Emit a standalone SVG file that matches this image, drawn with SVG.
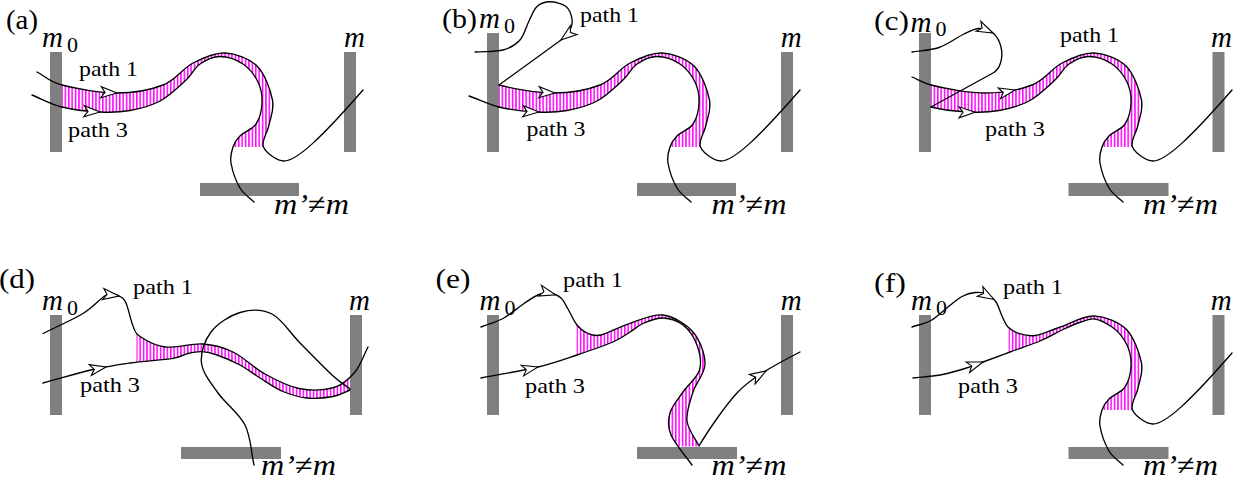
<svg xmlns="http://www.w3.org/2000/svg" xmlns:xlink="http://www.w3.org/1999/xlink" width="1239" height="481" viewBox="0 0 1239 481">
<style>
.mir{fill:#808080}
.crv{fill:none;stroke:#000;stroke-width:1.35;stroke-linecap:round;stroke-linejoin:round}
.band{fill:url(#hatch);stroke:none}
.ah{fill:#fff;stroke:#000;stroke-width:1.1;stroke-linejoin:miter}
text{font-family:"Liberation Serif","Times New Roman",serif;fill:#000}
.pl{font-size:27px}
.pt{font-size:22px}
.mi{font-style:italic;font-size:29px}
.sb{font-size:22px}
</style>
<defs>
<pattern id="hatch" patternUnits="userSpaceOnUse" x="0" y="0" width="3.4" height="10"><rect x="0" y="0" width="1.5" height="10" fill="#ff00ff"/></pattern>
<path id="ah" class="ah" d="M0,0 L-16,-5.5 L-12,0 L-16,5.5 Z"/>
<path id="bandA" class="band" d="M62,85 C75.3,88.5 100.2,93 117,93 C133.8,93 150.3,90 163,85 C175.7,80 182.7,68.3 193,63 C203.3,57.7 214.3,52.5 225,53 C235.7,53.5 249.1,58.2 257,66 C264.9,73.8 270.5,90.2 272.5,100 C274.5,109.8 270.5,117.2 269,125 C267.5,132.8 261,141 263.5,147 L233,147 C234.5,142.5 236.2,139.8 240,136 C243.8,132.2 252.3,129.5 256,124 C259.7,118.5 261.7,110 262,103 C262.3,96 261.2,88.5 258,82 C254.8,75.5 249.3,68.25 243,64 C236.7,59.75 227.2,56.5 220,56.5 C212.8,56.5 205.7,60.1 200,64 C194.3,67.9 192.7,73.8 186,80 C179.3,86.2 169.3,95.9 160,101 C150.7,106.1 140,108.7 130,110.5 C120,112.3 111.3,112.6 100,112 C88.7,111.4 73.3,109.8 62,107 Z"/>
<path id="p1tail" class="crv" d="M62,85 C75.3,88.5 100.2,93 117,93 C133.8,93 150.3,90 163,85 C175.7,80 182.7,68.3 193,63 C203.3,57.7 214.3,52.5 225,53 C235.7,53.5 249.1,58.2 257,66 C264.9,73.8 270.5,90.2 272.5,100 C274.5,109.8 270.5,117.2 269,125 C267.5,132.8 261,141 263.5,147 C266,153 277.3,161 284,161 C297,161 322,137 363,90"/>
<path id="p3tail" class="crv" d="M62,107 C73.3,109.8 88.7,111.4 100,112 C111.3,112.6 120,112.3 130,110.5 C140,108.7 150.7,106.1 160,101 C169.3,95.9 179.3,86.2 186,80 C192.7,73.8 194.3,67.9 200,64 C205.7,60.1 212.8,56.5 220,56.5 C227.2,56.5 236.7,59.75 243,64 C249.3,68.25 254.8,75.5 258,82 C261.2,88.5 262.3,96 262,103 C261.7,110 259.7,118.5 256,124 C252.3,129.5 243.8,132.2 240,136 C236.2,139.8 234.5,142.5 233,147 C231.5,151.5 229.8,156.2 231,163 C232.2,169.8 236.2,181.5 240,188 C243.8,194.5 249.3,197.3 254,202"/>
<clipPath id="clipD"><rect x="136.5" y="0" width="213.5" height="250"/></clipPath>
<clipPath id="clipE"><rect x="139.5" y="0" width="260" height="183.5"/></clipPath>
<clipPath id="clipF"><rect x="139.5" y="0" width="260" height="250"/></clipPath>
</defs>
<rect x="0" y="0" width="1239" height="481" fill="#fff"/>

<!-- Panel (a) -->
<g id="panel-a">
 <use href="#bandA"/>
 <g id="mirrors-a">
  <rect class="mir" x="50" y="52" width="12" height="100"/>
  <rect class="mir" x="344" y="52" width="12" height="100"/>
  <rect class="mir" x="200" y="183" width="99" height="13"/>
 </g>
 <g id="curves-a">
  <path class="crv" d="M37,72 C45.3,76.3 48.7,81.5 62,85"/>
  <use href="#p1tail"/>
  <path class="crv" d="M32,95 C42,99 50.7,104.2 62,107"/>
  <use href="#p3tail"/>
  <use href="#ah" transform="translate(117,93) rotate(3)"/>
  <use href="#ah" transform="translate(100,112) rotate(3)"/>
 </g>
 <g id="labels-a">
  <text class="pl" x="6" y="29" textLength="32" lengthAdjust="spacingAndGlyphs">(a)</text>
  <text class="mi" x="42" y="47">m</text>
  <text class="sb" x="67" y="52">0</text>
  <text class="pt" x="79" y="76" textLength="59" lengthAdjust="spacingAndGlyphs">path 1</text>
  <text class="pt" x="68" y="137" textLength="60" lengthAdjust="spacingAndGlyphs">path 3</text>
  <text class="mi" x="344" y="47">m</text>
  <text class="mi" x="274" y="214" textLength="75" lengthAdjust="spacingAndGlyphs">m’<tspan font-style="normal">≠</tspan>m</text>
 </g>
</g>

<!-- Panel (b) -->
<g id="panel-b" transform="translate(437,0)">
 <use href="#bandA"/>
 <g id="mirrors-b">
  <rect class="mir" x="50" y="33" width="12" height="119"/>
  <rect class="mir" x="344" y="52" width="12" height="100"/>
  <rect class="mir" x="200" y="183" width="99" height="13"/>
 </g>
 <g id="curves-b">
  <path class="crv" d="M38,52 C47.3,51.3 58.5,52 66,50 C73.5,48 78.7,44.8 83,40 C87.3,35.2 89.2,26.6 92,21 C94.8,15.4 96.5,9.7 100,6.5 C103.5,3.3 108.2,1.8 113,1.8 C117.8,1.8 125.3,3.6 129,6.5 C132.7,9.4 134.3,15.1 135,19 C135.7,22.9 134.8,26.5 133,30 C131.2,33.5 127.2,37.7 124,40 L62,85"/>
  <use href="#p1tail"/>
  <path class="crv" d="M32,96 C42,99.5 50.7,104.2 62,107"/>
  <use href="#p3tail"/>
  <use href="#ah" transform="translate(124,40) rotate(142)"/>
  <use href="#ah" transform="translate(118,93) rotate(3)"/>
  <use href="#ah" transform="translate(102,112) rotate(3)"/>
 </g>
 <g id="labels-b">
  <text class="pl" x="5" y="28" textLength="35" lengthAdjust="spacingAndGlyphs">(b)</text>
  <text class="mi" x="42" y="28">m</text>
  <text class="sb" x="67" y="33">0</text>
  <text class="pt" x="143" y="22" textLength="59" lengthAdjust="spacingAndGlyphs">path 1</text>
  <text class="pt" x="89.5" y="136" textLength="59" lengthAdjust="spacingAndGlyphs">path 3</text>
  <text class="mi" x="343.7" y="47">m</text>
  <text class="mi" x="274.5" y="214" textLength="75" lengthAdjust="spacingAndGlyphs">m’<tspan font-style="normal">≠</tspan>m</text>
 </g>
</g>

<!-- Panel (c) -->
<g id="panel-c" transform="translate(869,0)">
 <use href="#bandA"/>
 <g id="mirrors-c">
  <rect class="mir" x="50" y="33" width="12" height="119"/>
  <rect class="mir" x="343.5" y="52" width="12" height="100"/>
  <rect class="mir" x="199.5" y="183" width="100" height="13"/>
 </g>
 <g id="curves-c">
  <path class="crv" d="M43,77 C49,79.5 55,83 62,85"/>
  <use href="#p1tail"/>
  <path class="crv" d="M43,52 C52,50.5 61.3,50.5 70,47.5 C78.7,44.5 88.3,37.2 95,34 C101.7,30.8 105.2,28.7 110,28.5 C114.8,28.3 120.3,29.9 124,33 C127.7,36.1 130.75,42 132,47 C133.25,52 132.8,58.7 131.5,63 C130.2,67.3 127.5,71 124,73 L62,107"/>
  <use href="#p3tail"/>
  <use href="#ah" transform="translate(124,33) rotate(25)"/>
  <use href="#ah" transform="translate(146,90) rotate(-12)"/>
  <use href="#ah" transform="translate(106,112.3) rotate(0)"/>
 </g>
 <g id="labels-c">
  <text class="pl" x="5" y="30" textLength="35" lengthAdjust="spacingAndGlyphs">(c)</text>
  <text class="mi" x="41.5" y="31.5">m</text>
  <text class="sb" x="66.5" y="35.5">0</text>
  <text class="pt" x="191" y="42" textLength="59" lengthAdjust="spacingAndGlyphs">path 1</text>
  <text class="pt" x="116" y="136" textLength="60" lengthAdjust="spacingAndGlyphs">path 3</text>
  <text class="mi" x="342" y="47">m</text>
  <text class="mi" x="274" y="214" textLength="75" lengthAdjust="spacingAndGlyphs">m’<tspan font-style="normal">≠</tspan>m</text>
 </g>
</g>

<!-- Panel (d) -->
<g id="panel-d" transform="translate(0,263)">
 <path class="band" clip-path="url(#clipD)" d="M126,40 C128.3,45 130.7,57.4 133,63 C135.3,68.6 134.7,70 140,73.5 C145.3,77 154.5,82.75 165,84 C175.5,85.25 191.7,80.2 203,81 C214.3,81.8 222.7,84 233,89 C243.3,94 254,104.9 265,111 C276,117.1 287.5,123.25 299,125.5 C310.5,127.75 324.7,127.25 334,124.5 C343.3,121.75 349.3,115.75 355,109 C360.7,102.25 363.7,92.3 368,84 L350,127 C344.3,129.2 340.2,132.2 333,133.5 C325.8,134.8 315.3,135.8 307,135 C298.7,134.2 290.8,131.8 283,128.5 C275.2,125.2 267.2,119.4 260,115 C252.8,110.6 247.2,105.8 240,102 C232.8,98.2 223.3,94.2 217,92 C210.7,89.8 206.8,88.95 202,88.7 C197.2,88.45 192.8,89.4 188,90.5 C183.2,91.6 182.7,93.7 173,95.3 C163.3,96.9 143.3,98.1 130,100 C116.7,101.9 107.5,103.2 93,106.5 Z"/>
 <g id="mirrors-d">
  <rect class="mir" x="50" y="52" width="12" height="100"/>
  <rect class="mir" x="350" y="52" width="12" height="100"/>
  <rect class="mir" x="181" y="184" width="100" height="12"/>
 </g>
 <g id="curves-d">
  <path class="crv" d="M43,70.5 C56.3,63.8 72.3,57 83,50.5 C93.7,44 101,34.4 107,31.5 C113,28.6 115.8,31.6 119,33 C122.2,34.4 123.7,35 126,40 C128.3,45 130.7,57.4 133,63 C135.3,68.6 134.7,70 140,73.5 C145.3,77 154.5,82.75 165,84 C175.5,85.25 191.7,80.2 203,81 C214.3,81.8 222.7,84 233,89 C243.3,94 254,104.9 265,111 C276,117.1 287.5,123.25 299,125.5 C310.5,127.75 324.7,127.25 334,124.5 C343.3,121.75 349.3,115.75 355,109 C360.7,102.25 363.7,92.3 368,84"/>
  <path class="crv" d="M43,120 C59.7,115.5 78.5,109.8 93,106.5 C107.5,103.2 116.7,101.9 130,100 C143.3,98.1 163.3,96.9 173,95.3 C182.7,93.7 183.2,91.6 188,90.5 C192.8,89.4 197.2,88.45 202,88.7 C206.8,88.95 210.7,89.8 217,92 C223.3,94.2 232.8,98.2 240,102 C247.2,105.8 252.8,110.6 260,115 C267.2,119.4 275.2,125.2 283,128.5 C290.8,131.8 298.7,134.2 307,135 C315.3,135.8 325.8,134.8 333,133.5 C340.2,132.2 344.3,129.2 350,127"/>
  <path class="crv" d="M254,202 C251,188.7 251,174 245,162 C239,150 225.25,140.3 218,130 C210.75,119.7 202.7,110.2 201.5,100 C200.3,89.8 204.6,77.4 211,69 C217.4,60.6 229.8,52.5 240,49.5 C250.2,46.5 262,45.9 272,51 C282,56.1 290,69.8 300,80 C310,90.2 323.7,104.3 332,112 C340.3,119.7 344,121.3 350,126"/>
  <use href="#ah" transform="translate(119,33) rotate(7)"/>
  <use href="#ah" transform="translate(106,104) rotate(-11)"/>
 </g>
 <g id="labels-d">
  <text class="pl" x="-1" y="25" textLength="36" lengthAdjust="spacingAndGlyphs">(d)</text>
  <text class="mi" x="42" y="47">m</text>
  <text class="sb" x="67" y="52">0</text>
  <text class="pt" x="133" y="31" textLength="60" lengthAdjust="spacingAndGlyphs">path 1</text>
  <text class="pt" x="80" y="129" textLength="60" lengthAdjust="spacingAndGlyphs">path 3</text>
  <text class="mi" x="349" y="47">m</text>
  <text class="mi" x="261" y="211.5" textLength="75" lengthAdjust="spacingAndGlyphs">m’<tspan font-style="normal">≠</tspan>m</text>
 </g>
</g>

<!-- Panel (e) -->
<g id="panel-e" transform="translate(437,263)">
 <path class="band" clip-path="url(#clipE)" d="M131,46 C133.7,50.5 136.8,58 140,62 C143.2,66 146,68.3 150,70 C154,71.7 156.8,73.6 164,72 C171.2,70.4 182.7,63.6 193,60.3 C203.3,57 215.5,50.55 226,52 C236.5,53.45 249,60.8 256,69 C263,77.2 268,91 268,101 C268,111 259,119.5 256,129 C253,138.5 249,149 250,158 C251,167 258,174.7 262,183 L255,202 C248,192 237.7,180.7 234,172 C230.3,163.3 231,157.2 233,150 C235,142.8 241.1,136.2 246,129 C250.9,121.8 260.2,114.8 262.5,107 C264.8,99.2 262.75,89.5 260,82 C257.25,74.5 251.7,66.5 246,62 C240.3,57.5 232.5,55.3 226,55 C219.5,54.7 212.5,57.7 207,60 C201.5,62.3 198.2,65.8 193,69 C187.8,72.2 184.8,75.2 176,79 C167.2,82.8 152.5,87.8 140,92 C127.5,96.2 117,100.2 101,104 Z"/>
 <g id="mirrors-e">
  <rect class="mir" x="50" y="52" width="12" height="100"/>
  <rect class="mir" x="344" y="52" width="12" height="100"/>
  <rect class="mir" x="200" y="184" width="100" height="12"/>
 </g>
 <g id="curves-e">
  <path class="crv" d="M44,64 C51.3,61.2 58.8,59.4 66,55.5 C73.2,51.6 81,44.5 87,40.5 C93,36.5 97.5,33.2 102,31.5 C106.5,29.8 110.3,29.9 114,30.5 C117.7,31.1 121.2,32.4 124,35 C126.8,37.6 128.3,41.5 131,46 C133.7,50.5 136.8,58 140,62 C143.2,66 146,68.3 150,70 C154,71.7 156.8,73.6 164,72 C171.2,70.4 182.7,63.6 193,60.3 C203.3,57 215.5,50.55 226,52 C236.5,53.45 249,60.8 256,69 C263,77.2 268,91 268,101 C268,111 259,119.5 256,129 C253,138.5 249,149 250,158 C251,167 258,174.7 262,183 C269,171 287,144 300,130 C312,117 330,106 363,89"/>
  <path class="crv" d="M44,115 C63,111.3 85,107.8 101,104 C117,100.2 127.5,96.2 140,92 C152.5,87.8 167.2,82.8 176,79 C184.8,75.2 187.8,72.2 193,69 C198.2,65.8 201.5,62.3 207,60 C212.5,57.7 219.5,54.7 226,55 C232.5,55.3 240.3,57.5 246,62 C251.7,66.5 257.25,74.5 260,82 C262.75,89.5 264.8,99.2 262.5,107 C260.2,114.8 250.9,121.8 246,129 C241.1,136.2 235,142.8 233,150 C231,157.2 230.3,163.3 234,172 C237.7,180.7 248,192 255,202"/>
  <use href="#ah" transform="translate(118.5,31.8) rotate(15)"/>
  <use href="#ah" transform="translate(101,104) rotate(-13)"/>
  <use href="#ah" transform="translate(329,108) rotate(-31)"/>
 </g>
 <g id="labels-e">
  <text class="pl" x="-1.5" y="25" textLength="35" lengthAdjust="spacingAndGlyphs">(e)</text>
  <text class="mi" x="42.5" y="47">m</text>
  <text class="sb" x="67.5" y="52">0</text>
  <text class="pt" x="126" y="24" textLength="60" lengthAdjust="spacingAndGlyphs">path 1</text>
  <text class="pt" x="88" y="130" textLength="60" lengthAdjust="spacingAndGlyphs">path 3</text>
  <text class="mi" x="343.7" y="47">m</text>
  <text class="mi" x="274.5" y="211.5" textLength="75" lengthAdjust="spacingAndGlyphs">m’<tspan font-style="normal">≠</tspan>m</text>
 </g>
</g>

<!-- Panel (f) -->
<g id="panel-f" transform="translate(869,263)">
 <path class="band" clip-path="url(#clipF)" d="M133,53 C135,57.2 136.2,61.1 139,64 C141.8,66.9 145.5,69.1 150,70.5 C154.5,71.9 159.3,73.5 166,72.5 C172.7,71.5 180.2,67.75 190,64.5 C199.8,61.25 214.3,52.5 225,53 C235.7,53.5 249.1,58.2 257,66 C264.9,73.8 270.5,90.2 272.5,100 C274.5,109.8 270.5,117.2 269,125 C267.5,132.8 261,141 263.5,147 L233,147 C234.5,142.5 236.2,139.8 240,136 C243.8,132.2 252.3,129.5 256,124 C259.7,118.5 261.7,110 262,103 C262.3,96 261.2,88.5 258,82 C254.8,75.5 249.3,68.25 243,64 C236.7,59.75 231.2,56.8 226,56 C220.8,55.2 217.3,57.25 212,59 C206.7,60.75 200.8,63.3 194,66.5 C187.2,69.7 179.8,74.25 171,78 C162.2,81.75 150.5,85.5 141,89 C131.5,92.5 121.5,96.25 114,99 Z"/>
 <g id="mirrors-f">
  <rect class="mir" x="50" y="52" width="12" height="100"/>
  <rect class="mir" x="343.5" y="52" width="12" height="100"/>
  <rect class="mir" x="199.5" y="184" width="100" height="12"/>
 </g>
 <g id="curves-f">
  <path class="crv" d="M43,64 C49.3,61.8 56,60.8 62,57.5 C68,54.2 73.8,48 79,44 C84.2,40 88.5,35.9 93,33.5 C97.5,31.1 101.8,29.9 106,29.5 C110.2,29.1 114.5,29.4 118,31 C121.5,32.6 124.5,35.3 127,39 C129.5,42.7 131,48.8 133,53 C135,57.2 136.2,61.1 139,64 C141.8,66.9 145.5,69.1 150,70.5 C154.5,71.9 159.3,73.5 166,72.5 C172.7,71.5 180.2,67.75 190,64.5 C199.8,61.25 214.3,52.5 225,53 C235.7,53.5 249.1,58.2 257,66 C264.9,73.8 270.5,90.2 272.5,100 C274.5,109.8 270.5,117.2 269,125 C267.5,132.8 261,141 263.5,147 C266,153 277.3,161 284,161 C297,161 322,137 363,90"/>
  <path class="crv" d="M44,115 C53,114 62.3,113.6 71,112 C79.7,110.4 88.8,107.7 96,105.5 C103.2,103.3 106.5,101.75 114,99 C121.5,96.25 131.5,92.5 141,89 C150.5,85.5 162.2,81.75 171,78 C179.8,74.25 187.2,69.7 194,66.5 C200.8,63.3 206.7,60.75 212,59 C217.3,57.25 220.8,55.2 226,56 C231.2,56.8 236.7,59.75 243,64 C249.3,68.25 254.8,75.5 258,82 C261.2,88.5 262.3,96 262,103 C261.7,110 259.7,118.5 256,124 C252.3,129.5 243.8,132.2 240,136 C236.2,139.8 234.5,142.5 233,147 C231.5,151.5 229.8,156.2 231,163 C232.2,169.8 236.2,181.5 240,188 C243.8,194.5 249.3,197.3 254,202"/>
  <use href="#ah" transform="translate(125,36.5) rotate(30)"/>
  <use href="#ah" transform="translate(114,99) rotate(-19)"/>
 </g>
 <g id="labels-f">
  <text class="pl" x="5" y="28.5" textLength="32" lengthAdjust="spacingAndGlyphs">(f)</text>
  <text class="mi" x="42" y="47">m</text>
  <text class="sb" x="67" y="52">0</text>
  <text class="pt" x="134" y="31" textLength="60" lengthAdjust="spacingAndGlyphs">path 1</text>
  <text class="pt" x="89" y="130" textLength="60" lengthAdjust="spacingAndGlyphs">path 3</text>
  <text class="mi" x="341.7" y="47">m</text>
  <text class="mi" x="274" y="211.5" textLength="75" lengthAdjust="spacingAndGlyphs">m’<tspan font-style="normal">≠</tspan>m</text>
 </g>
</g>
</svg>
